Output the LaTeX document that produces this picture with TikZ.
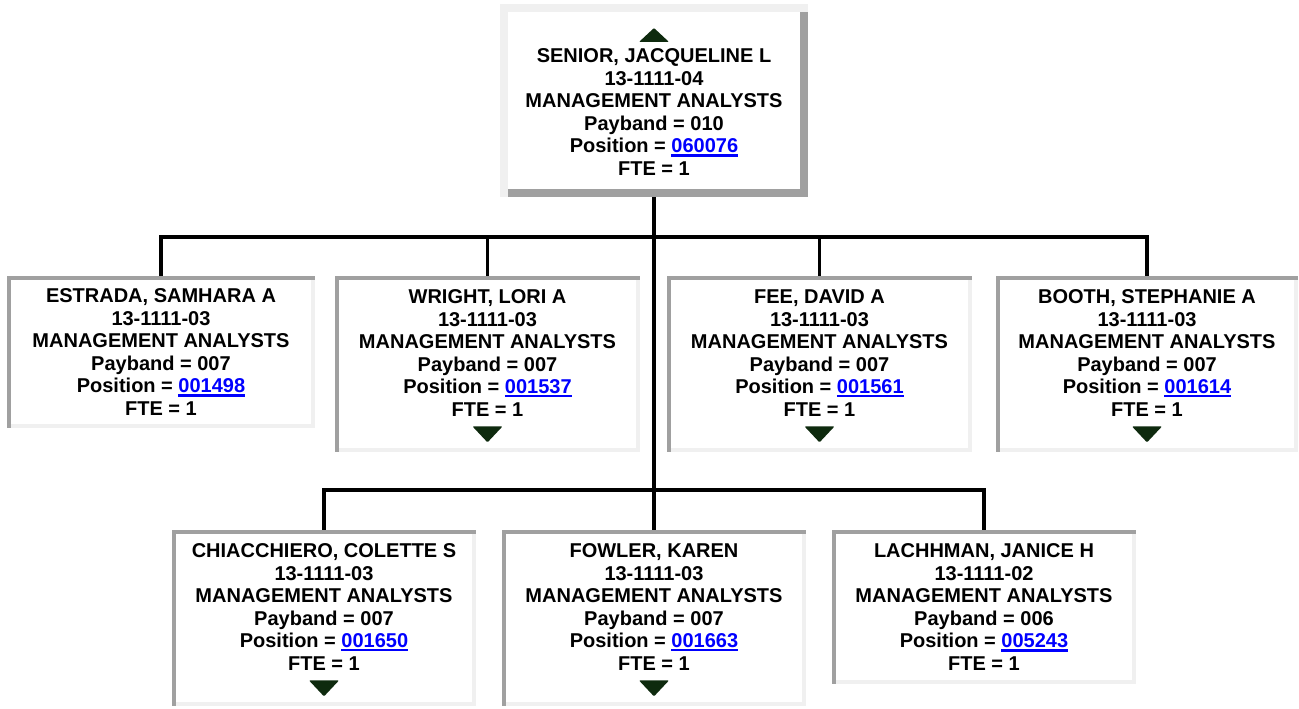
\documentclass[tikz,border=0pt]{standalone}
\usepackage{fontspec}
\setmainfont{Liberation Sans}
\usepackage{xcolor}
\usepackage{tikz}

\definecolor{edgedk}{HTML}{A0A0A0}
\definecolor{edgelt}{HTML}{F0F0F0}
\definecolor{arrowgreen}{HTML}{0E2A0E}
\definecolor{linkblue}{HTML}{0000FF}
\newcommand\poslink[1]{\textcolor{linkblue}{\setbox0\hbox{#1}\rlap{\vrule width\wd0 height -1.5pt depth 3.8pt}\box0}}

\begin{document}
\begin{tikzpicture}[
  x=1pt, y=1pt,
  font=\fontsize{20}{22.5}\selectfont\bfseries,
  bevel/.style n args={3}{path picture={
    \fill[#2] (path picture bounding box.south west) rectangle ([yshift=#3]path picture bounding box.south east);
    \fill[#2] (path picture bounding box.south east) rectangle ([xshift=-#3]path picture bounding box.north east);
    \fill[#1] (path picture bounding box.north west) rectangle ([yshift=-#3]path picture bounding box.north east);
    \fill[#1] (path picture bounding box.north west) rectangle ([xshift=#3]path picture bounding box.south west);
  }},
  card/.style={fill=white, align=center, anchor=north, inner sep=0pt,
               minimum width=305pt, minimum height=152pt, bevel={edgedk}{edgelt}{4pt}},
  kidcard/.style={card, minimum height=176pt},
  headcard/.style={card, minimum width=308pt, minimum height=193pt, bevel={edgelt}{edgedk}{8pt}},
  tri/.style={fill=arrowgreen, rounded corners=1pt},
  conn/.style={line width=3.5pt}
]
\useasboundingbox (0,0) rectangle (1299,-709);

\node[headcard] (sen) at (654,-4)
  {\rule{0pt}{14pt}\\ SENIOR, JACQUELINE L\\ 13-1111-04\\ MANAGEMENT ANALYSTS\\
   Payband = 010\\ Position = \poslink{060076}\\ FTE = 1};

\node[card, minimum width=308pt] (est) at (161,-276)
  {ESTRADA, SAMHARA A\\ 13-1111-03\\ MANAGEMENT ANALYSTS\\
   Payband = 007\\ Position = \poslink{001498}\\ FTE = 1};
\node[kidcard] (wri) at (487.5,-276)
  {WRIGHT, LORI A\\ 13-1111-03\\ MANAGEMENT ANALYSTS\\
   Payband = 007\\ Position = \poslink{001537}\\ FTE = 1\\ \mbox{}};
\node[kidcard] (fee) at (819.5,-276)
  {FEE, DAVID A\\ 13-1111-03\\ MANAGEMENT ANALYSTS\\
   Payband = 007\\ Position = \poslink{001561}\\ FTE = 1\\ \mbox{}};
\node[kidcard, minimum width=302pt] (boo) at (1147,-276)
  {BOOTH, STEPHANIE A\\ 13-1111-03\\ MANAGEMENT ANALYSTS\\
   Payband = 007\\ Position = \poslink{001614}\\ FTE = 1\\ \mbox{}};

\node[kidcard, minimum width=304pt] (chi) at (324,-530)
  {CHIACCHIERO, COLETTE S\\ 13-1111-03\\ MANAGEMENT ANALYSTS\\
   Payband = 007\\ Position = \poslink{001650}\\ FTE = 1\\ \mbox{}};
\node[kidcard, minimum width=304pt] (fow) at (654,-530)
  {FOWLER, KAREN\\ 13-1111-03\\ MANAGEMENT ANALYSTS\\
   Payband = 007\\ Position = \poslink{001663}\\ FTE = 1\\ \mbox{}};
\node[card, minimum width=304pt, minimum height=154pt] (lac) at (984,-530)
  {LACHHMAN, JANICE H\\ 13-1111-02\\ MANAGEMENT ANALYSTS\\
   Payband = 006\\ Position = \poslink{005243}\\ FTE = 1};

\fill[tri] (sen.north) ++(-15,-38) -- ++(30,0) -- ++(-15,14) -- cycle;
\foreach \n in {wri,fee,boo,chi,fow}
  \fill[tri] (\n.south) ++(-15,26) -- ++(30,0) -- ++(-15,-16) -- cycle;

\coordinate (bus1) at (654,-237);
\coordinate (bus2) at (654,-490);
\foreach \n in {est,wri,fee,boo}
  \draw[conn] (sen.south) -- (sen.south |- bus1) -| (\n.north);
\foreach \n in {chi,fow,lac}
  \draw[conn] (sen.south) -- (sen.south |- bus2) -| (\n.north);
\end{tikzpicture}
\end{document}
